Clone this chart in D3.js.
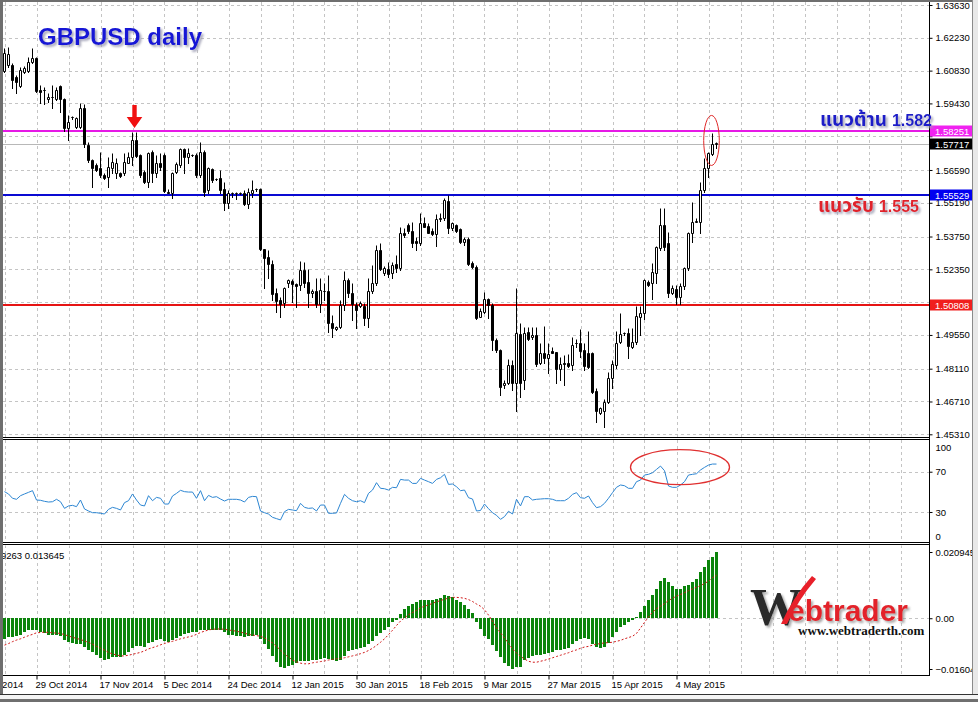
<!DOCTYPE html>
<html><head><meta charset="utf-8">
<script src="https://cdn.jsdelivr.net/npm/d3@7"></script>
<style>body{margin:0;background:#fff;overflow:hidden}svg{display:block}</style>
</head><body>
<script>
// ---------- DATA ----------
const openP  = [1.6081,1.6107,1.6107,1.6056,1.6017,1.6077,1.6081,1.6120,1.6137,1.6000,1.6000,1.5962,1.5970,1.5962,1.6017,1.5962,1.5838,1.5885,1.5842,1.5842,1.5923,1.5765,1.5701,1.5680,1.5667,1.5637,1.5629,1.5667,1.5646,1.5646,1.5646,1.5689,1.5714,1.5787,1.5723,1.5650,1.5608,1.5736,1.5646,1.5689,1.5723,1.5565,1.5561,1.5650,1.5680,1.5748,1.5714,1.5723,1.5723,1.5637,1.5736,1.5573,1.5663,1.5620,1.5625,1.5578,1.5518,1.5561,1.5560,1.5561,1.5561,1.5514,1.5561,1.5578,1.5578,1.5322,1.5287,1.5258,1.5134,1.5104,1.5091,1.5177,1.5185,1.5172,1.5168,1.5232,1.5181,1.5134,1.5142,1.5087,1.5142,1.5142,1.5006,1.4980,1.4989,1.5083,1.5189,1.5134,1.5083,1.5078,1.5078,1.5027,1.5142,1.5177,1.5317,1.5219,1.5236,1.5219,1.5258,1.5240,1.5390,1.5424,1.5398,1.5356,1.5347,1.5433,1.5420,1.5398,1.5386,1.5450,1.5454,1.5526,1.5411,1.5424,1.5407,1.5352,1.5364,1.5262,1.5245,1.5031,1.5053,1.5108,1.5083,1.4933,1.4891,1.4741,1.4750,1.4826,1.4750,1.4959,1.4763,1.4967,1.4946,1.4955,1.4835,1.4878,1.4856,1.4886,1.4882,1.4809,1.4835,1.4835,1.4826,1.4920,1.4920,1.4891,1.4878,1.4878,1.4716,1.4622,1.4630,1.4669,1.4771,1.4826,1.4925,1.4963,1.4963,1.4903,1.4925,1.5031,1.5048,1.5181,1.5177,1.5219,1.5326,1.5424,1.5347,1.5134,1.5151,1.5117,1.5164,1.5240,1.5390,1.5437,1.5437,1.5573,1.5667,1.5727,1.5770];
const highP  = [1.6180,1.6184,1.6115,1.6064,1.6098,1.6103,1.6141,1.6180,1.6141,1.6022,1.6013,1.5987,1.6022,1.6013,1.6022,1.5966,1.5894,1.5889,1.5885,1.5945,1.5940,1.5778,1.5706,1.5689,1.5736,1.5646,1.5714,1.5731,1.5710,1.5650,1.5731,1.5736,1.5821,1.5821,1.5727,1.5659,1.5736,1.5744,1.5723,1.5731,1.5731,1.5578,1.5650,1.5693,1.5753,1.5753,1.5753,1.5727,1.5731,1.5778,1.5744,1.5672,1.5667,1.5625,1.5659,1.5608,1.5573,1.5565,1.5565,1.5565,1.5573,1.5582,1.5616,1.5582,1.5580,1.5322,1.5317,1.5275,1.5155,1.5117,1.5159,1.5194,1.5194,1.5177,1.5270,1.5266,1.5236,1.5151,1.5198,1.5198,1.5177,1.5211,1.5040,1.4993,1.5104,1.5228,1.5198,1.5177,1.5095,1.5100,1.5091,1.5198,1.5253,1.5339,1.5347,1.5249,1.5266,1.5266,1.5296,1.5416,1.5411,1.5433,1.5437,1.5373,1.5475,1.5458,1.5433,1.5411,1.5471,1.5475,1.5539,1.5552,1.5437,1.5428,1.5411,1.5373,1.5373,1.5270,1.5253,1.5070,1.5138,1.5112,1.5091,1.4942,1.4895,1.4763,1.4852,1.4848,1.5155,1.5006,1.4989,1.4989,1.4989,1.4989,1.4920,1.4993,1.4920,1.4903,1.4882,1.4861,1.4869,1.4873,1.4946,1.4937,1.4980,1.4920,1.4972,1.4882,1.4728,1.4647,1.4681,1.4797,1.4848,1.4972,1.5048,1.4967,1.4984,1.4984,1.5078,1.5078,1.5194,1.5189,1.5262,1.5334,1.5497,1.5497,1.5394,1.5168,1.5168,1.5177,1.5245,1.5394,1.5522,1.5454,1.5608,1.5710,1.5736,1.5817,1.5778];
const lowP   = [1.6077,1.6098,1.6009,1.5987,1.6013,1.6073,1.6077,1.6115,1.5992,1.5945,1.5940,1.5949,1.5923,1.5958,1.5906,1.5825,1.5787,1.5876,1.5838,1.5838,1.5757,1.5693,1.5586,1.5654,1.5629,1.5620,1.5586,1.5646,1.5625,1.5629,1.5637,1.5689,1.5680,1.5714,1.5629,1.5603,1.5586,1.5608,1.5629,1.5659,1.5565,1.5561,1.5539,1.5646,1.5672,1.5646,1.5689,1.5718,1.5629,1.5629,1.5548,1.5561,1.5608,1.5616,1.5561,1.5488,1.5497,1.5543,1.5535,1.5557,1.5509,1.5497,1.5543,1.5569,1.5317,1.5155,1.5198,1.5104,1.5053,1.5031,1.5074,1.5159,1.5095,1.5074,1.5147,1.5159,1.5074,1.5117,1.5074,1.5053,1.5104,1.4967,1.4946,1.4976,1.4984,1.5061,1.5117,1.5019,1.4984,1.5074,1.4997,1.4989,1.5134,1.5168,1.5232,1.5211,1.5202,1.5198,1.5223,1.5232,1.5373,1.5390,1.5330,1.5317,1.5339,1.5416,1.5390,1.5381,1.5334,1.5441,1.5445,1.5390,1.5403,1.5394,1.5347,1.5339,1.5253,1.5240,1.5023,1.5031,1.5048,1.5027,1.4891,1.4882,1.4699,1.4728,1.4745,1.4720,1.4630,1.4690,1.4724,1.4933,1.4938,1.4822,1.4831,1.4835,1.4792,1.4878,1.4750,1.4763,1.4741,1.4818,1.4805,1.4903,1.4861,1.4805,1.4814,1.4707,1.4583,1.4617,1.4562,1.4664,1.4728,1.4814,1.4920,1.4955,1.4856,1.4899,1.4916,1.4955,1.5023,1.5164,1.5108,1.5177,1.5317,1.5317,1.5117,1.5130,1.5087,1.5087,1.5151,1.5232,1.5352,1.5437,1.5390,1.5565,1.5629,1.5723,1.5753];
const closeP = [1.6158,1.6154,1.6043,1.6034,1.6086,1.6094,1.6120,1.6137,1.5996,1.5992,1.5999,1.5970,1.5969,1.6000,1.5962,1.5838,1.5864,1.5884,1.5881,1.5923,1.5770,1.5701,1.5667,1.5659,1.5637,1.5625,1.5672,1.5693,1.5689,1.5633,1.5693,1.5714,1.5787,1.5718,1.5637,1.5608,1.5731,1.5646,1.5689,1.5672,1.5569,1.5562,1.5646,1.5684,1.5748,1.5714,1.5731,1.5722,1.5637,1.5736,1.5565,1.5667,1.5616,1.5619,1.5573,1.5518,1.5561,1.5560,1.5561,1.5560,1.5514,1.5565,1.5573,1.5577,1.5322,1.5283,1.5258,1.5130,1.5100,1.5087,1.5155,1.5189,1.5172,1.5164,1.5232,1.5177,1.5134,1.5142,1.5087,1.5147,1.5143,1.5006,1.4984,1.4989,1.5083,1.5189,1.5134,1.5087,1.5061,1.5091,1.5027,1.5142,1.5177,1.5317,1.5236,1.5240,1.5215,1.5253,1.5240,1.5390,1.5382,1.5398,1.5347,1.5347,1.5433,1.5416,1.5390,1.5386,1.5450,1.5454,1.5531,1.5411,1.5433,1.5398,1.5352,1.5364,1.5258,1.5245,1.5027,1.5057,1.5108,1.5083,1.4933,1.4891,1.4733,1.4750,1.4826,1.4750,1.4963,1.4750,1.4963,1.4938,1.4955,1.4831,1.4878,1.4856,1.4873,1.4878,1.4809,1.4831,1.4833,1.4822,1.4912,1.4919,1.4886,1.4822,1.4818,1.4711,1.4630,1.4643,1.4669,1.4771,1.4831,1.4920,1.4959,1.4962,1.4908,1.4925,1.5036,1.5048,1.5189,1.5168,1.5223,1.5330,1.5424,1.5330,1.5134,1.5155,1.5117,1.5164,1.5240,1.5390,1.5437,1.5441,1.5573,1.5667,1.5731,1.5770,1.5772];
const rsiValues = [50.2,47.9,43.6,42.6,46.2,47.9,49.5,51.2,41.9,41.6,40.6,39.9,40.2,42.6,40.2,33.6,36,36.6,35.3,41.9,33,31,29.3,29.3,28.7,28,32.6,34.6,33.6,32,39.3,41.2,47.9,41.9,36.9,36,46.2,41.2,44.5,43.6,37.9,37.9,45.9,48.5,51.5,50.2,49.8,49.8,43.6,51.2,41.2,46.5,44.5,45.2,42.9,40.9,42.6,42.6,42.6,41.9,39.9,44.5,45.5,45.2,31,29.3,28,24.7,23.4,22.1,30.3,32.6,32,31.3,38.6,34.6,33.6,34,31,36.9,36.9,28.7,28.7,29,38.6,47.5,43.6,41.2,40.2,41.2,39.3,48.5,51.8,59.1,53.5,53.1,51.8,54.5,54.1,62.4,61.7,61.7,58.4,58.4,63.4,61.7,60.1,58.4,62.4,64,67.4,57.4,57.8,55.1,51.2,51.8,44.2,42.9,31,31.5,37.9,33.3,29.3,26.7,22.7,25.4,30.7,28,42.6,36,45.2,45.2,41.9,42.6,42.9,43.2,43.2,42.6,41.2,41.2,41.2,43.6,47.5,49.2,44.2,43.6,45.9,39.3,34.3,35.3,38.6,43.6,49.2,54.5,56.8,56.1,53.5,53.5,60.1,61.7,66.7,67.4,69,72.3,75.6,71,55.8,54.5,54.5,56.8,60.1,66.7,67.4,68,71.7,74.3,76.6,77.6,77.6];
const macdValues = [-0.0065,-0.0059,-0.0060,-0.0057,-0.0052,-0.0044,-0.0038,-0.0036,-0.0038,-0.0042,-0.0046,-0.0054,-0.0054,-0.0054,-0.0057,-0.0070,-0.0075,-0.0078,-0.0080,-0.0083,-0.0091,-0.0099,-0.0108,-0.0117,-0.0125,-0.0131,-0.0129,-0.0122,-0.0122,-0.0122,-0.0115,-0.0106,-0.0094,-0.0089,-0.0089,-0.0091,-0.0078,-0.0074,-0.0070,-0.0067,-0.0071,-0.0074,-0.0070,-0.0063,-0.0055,-0.0050,-0.0046,-0.0043,-0.0042,-0.0036,-0.0038,-0.0036,-0.0036,-0.0036,-0.0038,-0.0044,-0.0052,-0.0054,-0.0057,-0.0057,-0.0059,-0.0057,-0.0055,-0.0052,-0.0067,-0.0083,-0.0097,-0.0118,-0.0139,-0.0154,-0.0156,-0.0152,-0.0147,-0.0141,-0.0136,-0.0136,-0.0136,-0.0133,-0.0133,-0.0129,-0.0125,-0.0129,-0.0133,-0.0136,-0.0131,-0.0118,-0.0104,-0.0099,-0.0097,-0.0094,-0.0091,-0.0083,-0.0073,-0.0057,-0.0046,-0.0036,-0.0027,-0.0013,-0.0006,0.0015,0.0030,0.0040,0.0046,0.0051,0.0057,0.0059,0.0059,0.0059,0.0061,0.0064,0.0075,0.0070,0.0067,0.0059,0.0051,0.0043,0.0030,0.0017,-0.0013,-0.0034,-0.0056,-0.0065,-0.0086,-0.0104,-0.0122,-0.0143,-0.0150,-0.0160,-0.0154,-0.0154,-0.0133,-0.0125,-0.0118,-0.0115,-0.0115,-0.0112,-0.0110,-0.0108,-0.0101,-0.0099,-0.0097,-0.0094,-0.0083,-0.0073,-0.0065,-0.0063,-0.0067,-0.0083,-0.0091,-0.0094,-0.0091,-0.0078,-0.0059,-0.0044,-0.0027,-0.0020,-0.0013,-0.0006,0.0004,0.0019,0.0040,0.0057,0.0072,0.0093,0.0117,0.0128,0.0114,0.0103,0.0093,0.0093,0.0103,0.0106,0.0114,0.0124,0.0145,0.0162,0.0183,0.0195,0.0209];
const signalValues = [-0.0085,-0.0080,-0.0074,-0.0069,-0.0065,-0.0060,-0.0055,-0.0051,-0.0046,-0.0045,-0.0044,-0.0045,-0.0046,-0.0047,-0.0048,-0.0052,-0.0056,-0.0060,-0.0064,-0.0067,-0.0072,-0.0076,-0.0082,-0.0089,-0.0095,-0.0101,-0.0108,-0.0113,-0.0116,-0.0119,-0.0119,-0.0117,-0.0114,-0.0111,-0.0108,-0.0103,-0.0097,-0.0093,-0.0089,-0.0084,-0.0080,-0.0076,-0.0073,-0.0069,-0.0065,-0.0062,-0.0059,-0.0056,-0.0051,-0.0045,-0.0041,-0.0037,-0.0035,-0.0034,-0.0034,-0.0035,-0.0037,-0.0039,-0.0041,-0.0044,-0.0047,-0.0051,-0.0053,-0.0055,-0.0057,-0.0062,-0.0070,-0.0078,-0.0089,-0.0101,-0.0113,-0.0123,-0.0132,-0.0138,-0.0142,-0.0144,-0.0144,-0.0141,-0.0139,-0.0137,-0.0135,-0.0132,-0.0130,-0.0128,-0.0127,-0.0125,-0.0122,-0.0119,-0.0116,-0.0112,-0.0108,-0.0102,-0.0095,-0.0086,-0.0076,-0.0065,-0.0052,-0.0038,-0.0023,-0.0009,0.0001,0.0011,0.0018,0.0025,0.0033,0.0038,0.0042,0.0047,0.0052,0.0056,0.0060,0.0064,0.0066,0.0066,0.0065,0.0063,0.0059,0.0053,0.0045,0.0038,0.0027,0.0010,-0.0009,-0.0031,-0.0046,-0.0062,-0.0080,-0.0097,-0.0110,-0.0120,-0.0129,-0.0136,-0.0139,-0.0139,-0.0136,-0.0133,-0.0129,-0.0125,-0.0121,-0.0117,-0.0113,-0.0109,-0.0104,-0.0100,-0.0095,-0.0091,-0.0089,-0.0085,-0.0082,-0.0080,-0.0078,-0.0077,-0.0076,-0.0073,-0.0070,-0.0065,-0.0061,-0.0057,-0.0048,-0.0031,-0.0013,0.0004,0.0019,0.0030,0.0038,0.0046,0.0056,0.0063,0.0070,0.0075,0.0081,0.0087,0.0093,0.0098,0.0103,0.0110,0.0117,0.0128,0.0136];
const priceTicks = [1.63630,1.62230,1.60830,1.59430,1.58030,1.56590,1.55190,1.53750,1.52350,1.50950,1.49550,1.48110,1.46710,1.45310];
const rsiTicks = [100,70,30,0];
const macdTicks = [0.020945,0,-0.016047];
const dateTickBars = [-8,8,24,40,56,72,88,104,120,136,152,168];
const dateTickLabels = ["10 Oct 2014","29 Oct 2014","17 Nov 2014","5 Dec 2014","24 Dec 2014","12 Jan 2015","30 Jan 2015","18 Feb 2015","9 Mar 2015","27 Mar 2015","15 Apr 2015","4 May 2015"];
const levelValues = [1.58251,1.57717,1.55529,1.50808];
const levelNames  = ["resistance","bid","support","low"];
const macdHeader = "9263 0.013645";

// ---------- SETUP ----------
const W=978,H=702;
const svg=d3.select("body").append("svg").attr("width",W).attr("height",H).style("font-family","'Liberation Sans',Arial,sans-serif");
svg.append("rect").attr("width",W).attr("height",H).attr("fill","#fff");
const AX=929.5;
const x=d3.scaleLinear().domain([0,231]).range([4.5,928.5]);
const yP=d3.scaleLinear().domain([1.4531,1.6363]).range([434.3,5]);
const yR=d3.scaleLinear().domain([0,100]).range([542.2,441.5]);
const yM=d3.scaleLinear().domain([-0.016047,0.020945]).range([669,552]);
const colors={resistance:"#e619e6",bid:"#b8b8b8",support:"#0a0ad2",low:"#e61414"};
const boxColors={resistance:"#f022f0",bid:"#000",support:"#0000f0",low:"#f01e1e"};

const defs=svg.append("defs");
[["cMain",3,2,926,435.5],["cRsi",3,440,926,102.5],["cMacd",3,545.5,926,129.5]].forEach(c=>{
  defs.append("clipPath").attr("id",c[0]).append("rect").attr("x",c[1]).attr("y",c[2]).attr("width",c[3]).attr("height",c[4]);
});
const f1=defs.append("filter").attr("id","shadow").attr("x","-10%").attr("y","-30%").attr("width","130%").attr("height","170%");
f1.append("feDropShadow").attr("dx",2).attr("dy",2).attr("stdDeviation",0.8).attr("flood-color","#9a9ab0").attr("flood-opacity",0.85);
const f2=defs.append("filter").attr("id","shadow2").attr("x","-10%").attr("y","-30%").attr("width","130%").attr("height","170%");
f2.append("feDropShadow").attr("dx",2).attr("dy",2).attr("stdDeviation",1).attr("flood-color","#888").attr("flood-opacity",0.7);

const gridCol="#c4c4c4", dash="3,3";
const gridBars=d3.range(0,232,8);
function vgrid(g,y1,y2){
  g.selectAll("line.vg").data(gridBars).join("line").attr("class","vg")
   .attr("x1",d=>Math.round(x(d))+0.5).attr("x2",d=>Math.round(x(d))+0.5).attr("y1",y1).attr("y2",y2)
   .attr("stroke",gridCol).attr("stroke-dasharray",dash);
}
// ---------- MAIN PANE ----------
const main=svg.append("g").attr("clip-path","url(#cMain)");
vgrid(main,2,437);
main.selectAll("line.hg").data(priceTicks).join("line").attr("class","hg")
  .attr("x1",3).attr("x2",AX).attr("y1",d=>Math.round(yP(d))+0.5).attr("y2",d=>Math.round(yP(d))+0.5)
  .attr("stroke",gridCol).attr("stroke-dasharray",dash);
levelValues.forEach((v,k)=>{
  const n=levelNames[k];
  main.append("line").attr("x1",3).attr("x2",AX).attr("y1",Math.round(yP(v))+(n==="bid"?0.5:0)).attr("y2",Math.round(yP(v))+(n==="bid"?0.5:0))
   .attr("stroke",colors[n]).attr("stroke-width",n==="bid"?1:2);
});
const bars=d3.range(openP.length).map(i=>({i,o:openP[i],h:highP[i],l:lowP[i],c:closeP[i]}));
const py=v=>Math.round(yP(v))+0.5;
main.selectAll("line.wick").data(bars).join("line").attr("class","wick")
  .attr("x1",d=>x(d.i)).attr("x2",d=>x(d.i)).attr("y1",d=>py(d.h)).attr("y2",d=>py(d.l)+0.5)
  .attr("stroke","#000").attr("stroke-width",1);
main.selectAll("path.body").data(bars).join("path").attr("class","body")
  .attr("d",d=>{const t=py(Math.max(d.o,d.c)),b=py(Math.min(d.o,d.c)),cx=x(d.i);return `M${cx-1},${t}H${cx+1}V${b}H${cx-1}Z`;})
  .attr("fill",d=>d.c>=d.o?"#fff":"#000").attr("stroke","#000").attr("stroke-width",1);

// ---------- RSI PANE ----------
const rsiG=svg.append("g").attr("clip-path","url(#cRsi)");
vgrid(rsiG,440,543);
rsiG.selectAll("line.hg").data([70,30]).join("line").attr("x1",3).attr("x2",AX)
  .attr("y1",d=>Math.round(yR(d))+0.5).attr("y2",d=>Math.round(yR(d))+0.5).attr("stroke",gridCol).attr("stroke-dasharray",dash);
rsiG.append("path").datum(rsiValues).attr("fill","none").attr("stroke","#2d86d2").attr("stroke-width",1)
  .attr("d",d3.line().x((d,i)=>x(i)).y(d=>yR(d)));

// ---------- MACD PANE ----------
const macdG=svg.append("g").attr("clip-path","url(#cMacd)");
vgrid(macdG,545,675);
macdG.append("line").attr("x1",3).attr("x2",AX).attr("y1",Math.round(yM(0))+0.5).attr("y2",Math.round(yM(0))+0.5)
  .attr("stroke",gridCol).attr("stroke-dasharray",dash);
macdG.selectAll("rect.h").data(macdValues).join("rect").attr("class","h")
  .attr("x",(d,i)=>x(i)-1.5).attr("width",3)
  .attr("y",d=>Math.round(yM(Math.max(0,d)))).attr("height",d=>Math.max(1,Math.abs(Math.round(yM(d))-Math.round(yM(0)))))
  .attr("fill","#0b840b");
macdG.append("path").datum(signalValues).attr("fill","none").attr("stroke","#d01818").attr("stroke-width",1).attr("stroke-dasharray","2,2")
  .attr("d",d3.line().x((d,i)=>x(i)).y(d=>yM(d)));
svg.append("text").attr("x",1).attr("y",559).attr("font-size","9.5px").attr("fill","#000").text(macdHeader);

// ---------- PANE BORDERS ----------
[437.5,439.5,542.5,544.5,675.5].forEach(b=>svg.append("line").attr("x1",3).attr("x2",AX).attr("y1",b).attr("y2",b).attr("stroke","#000"));
svg.append("line").attr("x1",AX).attr("x2",AX).attr("y1",2).attr("y2",676).attr("stroke","#000");

// ---------- AXES ----------
function styleAxis(g){g.select(".domain").remove();g.selectAll("text").attr("font-size","9.5px").attr("fill","#000").attr("font-family","'Liberation Sans',Arial,sans-serif");g.selectAll(".tick line").attr("stroke","#000");}
const pAx=svg.append("g").attr("transform",`translate(${AX},0)`)
  .call(d3.axisRight(yP).tickValues(priceTicks).tickFormat(d3.format(".5f")).tickSize(3).tickPadding(3)).call(styleAxis);
// labels hidden behind the coloured level boxes (as in the terminal)
pAx.selectAll(".tick").filter(d=>levelValues.some(v=>Math.abs(yP(d)-yP(v))<6)).select("text").remove();
const rAx=svg.append("g").attr("transform",`translate(${AX},0)`)
  .call(d3.axisRight(yR).tickValues(rsiTicks).tickFormat(d3.format("d")).tickSize(3).tickPadding(3)).call(styleAxis);
rAx.selectAll(".tick").filter(d=>d===100).select("text").attr("dy","0.9em");
rAx.selectAll(".tick").filter(d=>d===0).select("text").attr("dy","-0.25em");
rAx.selectAll(".tick").filter(d=>d===100||d===0).select("line").remove();
svg.append("g").attr("transform",`translate(${AX},0)`)
  .call(d3.axisRight(yM).tickValues(macdTicks).tickFormat(d=>d===0?"0.00":d3.format(".6f")(d)).tickSize(3).tickPadding(3)).call(styleAxis);
const dAx=svg.append("g").attr("transform","translate(0,675.5)")
  .call(d3.axisBottom(x).tickValues(dateTickBars).tickFormat((d,i)=>dateTickLabels[i]).tickSize(4).tickPadding(2)).call(styleAxis);
dAx.selectAll(".tick text").attr("text-anchor","start").attr("dx","-1.5").attr("dy","0.72em");

levelValues.forEach((v,k)=>{
  const n=levelNames[k], yy=Math.round(yP(v));
  svg.append("rect").attr("x",930).attr("y",yy-5.5).attr("width",42).attr("height",11).attr("fill",boxColors[n]);
  svg.append("text").attr("x",935).attr("y",yy+3.5).attr("font-size","9.5px").attr("fill","#fff").text(d3.format(".5f")(v));
});

// ---------- ANNOTATIONS ----------
const sans="'Liberation Sans',Arial,sans-serif", thai="'Noto Sans Thai','Noto Sans','DejaVu Sans',sans-serif";
svg.append("text").attr("x",38).attr("y",45).attr("font-size","24px").attr("font-weight","bold").attr("font-family",sans)
  .attr("fill","#1717d6").attr("filter","url(#shadow)").text("GBPUSD daily");
function thaiLabel(th,num,xx,yy,col){
  const t=svg.append("text").attr("x",xx).attr("y",yy).attr("text-anchor","end").attr("font-weight","bold").attr("fill",col).attr("filter","url(#shadow)");
  t.append("tspan").attr("font-family",thai).attr("font-size","19px").text(th+" ");
  t.append("tspan").attr("font-family",sans).attr("font-size","16px").text(num);
}
thaiLabel("แนวต้าน","1.582",932,126,"#1c1cc8");
thaiLabel("แนวรับ","1.555",919,212,"#e0202a");
const ax0=(x(32)+x(33))/2, ay=yP(1.5821)-4;
svg.append("path").attr("d",`M${ax0-2.2},${ay-23}h4.4v12h5.6l-7.8,11l-7.8,-11h5.6z`).attr("fill","#f01010");
svg.append("ellipse").attr("cx",x(177)-1).attr("cy",yP(1.5785)).attr("rx",7.8).attr("ry",25).attr("fill","none").attr("stroke","#e02828").attr("stroke-width",1);
svg.append("ellipse").attr("cx",x(169)-0.5).attr("cy",yR(74.5)).attr("rx",49.5).attr("ry",17.5).attr("fill","none").attr("stroke","#e03030").attr("stroke-width",1.3);

// logo
const logo=svg.append("g");
logo.append("text").attr("x",750).attr("y",625).attr("font-family","'Liberation Serif',serif").attr("font-weight","bold").attr("font-size","52px").attr("fill","#2c2c2c").attr("filter","url(#shadow2)").text("W");
logo.append("path").attr("d","M812,576 Q793,597 781,624 L787,624 Q798,600 816,579 Z").attr("fill","#e8202a");
logo.append("text").attr("x",788).attr("y",621).attr("font-family",sans).attr("font-weight","bold").attr("font-size","30px").attr("fill","#e3232b").attr("filter","url(#shadow2)").text("ebtrader");
logo.append("text").attr("x",798).attr("y",635).attr("font-family","'Liberation Serif',serif").attr("font-weight","bold").attr("font-size","13px").attr("fill","#111").text("www.webtraderth.com");

// ---------- WINDOW CHROME ----------
svg.append("rect").attr("x",0).attr("y",0).attr("width",3).attr("height",H).attr("fill","#6f6f6f");
svg.append("rect").attr("x",0).attr("y",0).attr("width",W).attr("height",2).attr("fill","#6f6f6f");
svg.append("rect").attr("x",972).attr("y",0).attr("width",6).attr("height",H).attr("fill","#e8e8e8");
svg.append("line").attr("x1",972.5).attr("x2",972.5).attr("y1",0).attr("y2",H).attr("stroke","#8a8a8a");
svg.append("rect").attr("x",0).attr("y",694).attr("width",W).attr("height",8).attr("fill","#f4f4f4");
svg.append("line").attr("x1",0).attr("x2",W).attr("y1",694.5).attr("y2",694.5).attr("stroke","#333");
svg.append("rect").attr("x",0).attr("y",699).attr("width",W).attr("height",3).attr("fill","#6f6f6f");
</script>
</body></html>
